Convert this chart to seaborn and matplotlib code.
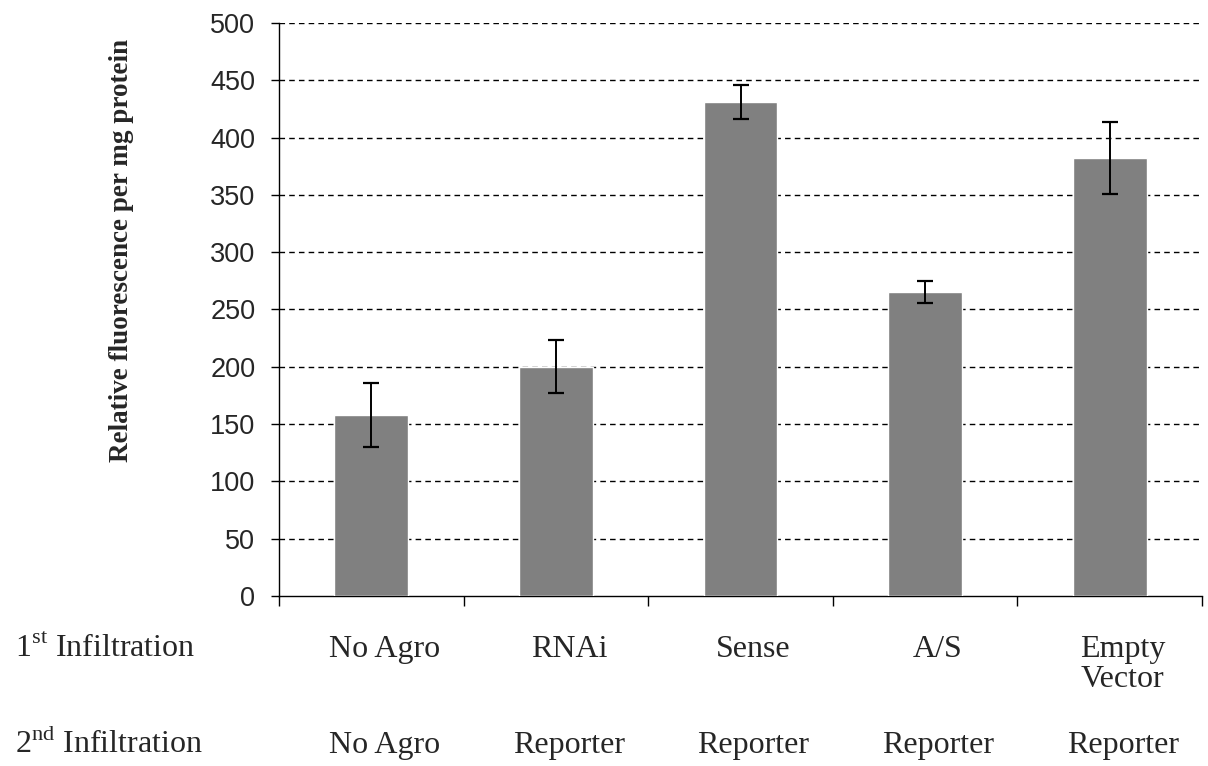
import matplotlib
matplotlib.use("Agg")
import matplotlib.pyplot as plt
import matplotlib.transforms as mtransforms
import seaborn as sns
import pandas as pd

# Fluorescence per treatment (mean and error)
first_infiltration = ["No Agro", "RNAi", "Sense", "A/S", "Empty\nVector"]
second_infiltration = ["No Agro", "Reporter", "Reporter", "Reporter", "Reporter"]
fluorescence = [158, 200, 431, 265, 382]
errors = [28, 23, 15, 9.5, 31.5]
y_ticks = [0, 50, 100, 150, 200, 250, 300, 350, 400, 450, 500]

sns.set_theme(style="white")
plt.rcParams["font.family"] = ["Liberation Sans", "DejaVu Sans"]
plt.rcParams["mathtext.fontset"] = "custom"
plt.rcParams["mathtext.rm"] = "Liberation Serif"

df = pd.DataFrame({"treatment": first_infiltration, "value": fluorescence})

W, H = 1208, 766
fig = plt.figure(figsize=(W / 100, H / 100), dpi=100)
ax = fig.add_axes([279 / W, 1 - 596 / H, (1202 - 279) / W, (596 - 23) / H])

sns.barplot(data=df, x="treatment", y="value", color="#808080",
            saturation=1, width=0.4, errorbar=None, ax=ax, zorder=3)
ax.errorbar(range(len(fluorescence)), fluorescence, yerr=errors, fmt="none",
            ecolor="black", elinewidth=1.4, capsize=6, capthick=1.6, zorder=4)

ax.set_xlim(-0.5, len(fluorescence) - 0.5)
ax.set_ylim(0, 500)
ax.set_yticks(y_ticks)
ax.set_yticklabels([str(t) for t in y_ticks], fontsize=19.5)
ax.set_xticks([i - 0.5 for i in range(len(fluorescence) + 1)])
ax.set_xticklabels([])
ax.set_xlabel("")
ax.set_ylabel("")

for t in y_ticks[1:]:
    ax.axhline(t, color="black", lw=1.0, ls=(0, (4, 3)), zorder=1)

for side in ["top", "right"]:
    ax.spines[side].set_visible(False)
for side in ["left", "bottom"]:
    ax.spines[side].set_color("black")
    ax.spines[side].set_linewidth(1.0)
ax.tick_params(axis="y", direction="out", length=6, width=1, color="black",
               left=True, pad=11)
ax.tick_params(axis="x", direction="out", length=7, width=1, color="black",
               bottom=True)

serif = ["Liberation Serif", "DejaVu Serif"]
fig.text(122 / W, 1 - 250 / H, "Relative fluorescence per mg protein", rotation=90,
         ha="center", va="center", fontsize=19.5, fontweight="bold", family=serif)

# Treatment table below the axis, one column per bar
trans = mtransforms.blended_transform_factory(ax.transData, fig.transFigure)
shift = 0.07
row1_base, row2_base, line_gap = 657, 753, 30
for i, (a, b) in enumerate(zip(first_infiltration, second_infiltration)):
    for k, line in enumerate(a.split("\n")):
        ax.text(i + shift, 1 - (row1_base + k * line_gap) / H, line, transform=trans,
                ha="center", va="baseline", fontsize=23, family=serif)
    ax.text(i + shift, 1 - row2_base / H, b, transform=trans, ha="center",
            va="baseline", fontsize=23, family=serif)

fig.text(15 / W, 1 - row1_base / H, r"1$^{\mathrm{st}}$ Infiltration", ha="left",
         va="baseline", fontsize=23, family=serif)
fig.text(15 / W, 1 - row2_base / H, r"2$^{\mathrm{nd}}$ Infiltration", ha="left",
         va="baseline", fontsize=23, family=serif)

fig.savefig("out.png", dpi=100, facecolor="white")
